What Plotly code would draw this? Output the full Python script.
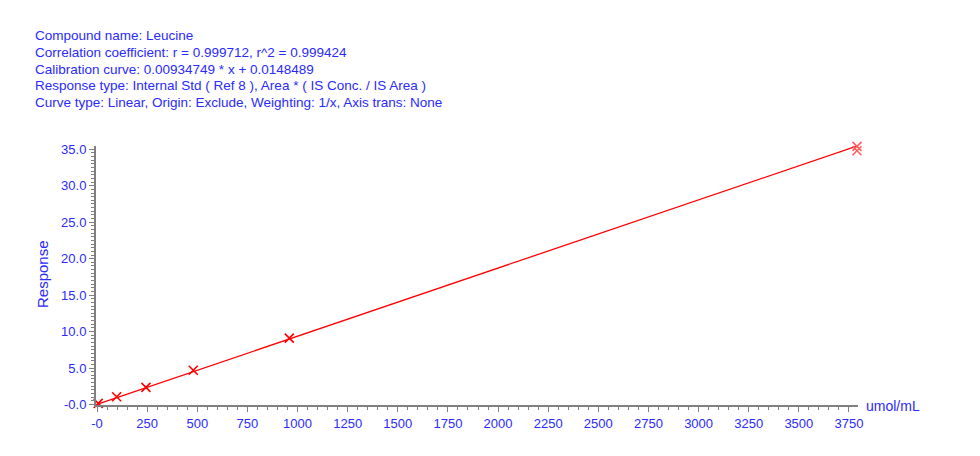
import plotly.graph_objects as go

# Calibration standards (concentration umol/mL, response)
std_conc = [6, 98, 244, 480, 959, 3790, 3790]
std_resp = [0.16, 1.06, 2.35, 4.70, 9.10, 35.40, 34.80]

# Fit parameters as printed in the header
slope = 0.00934749
intercept = 0.0148489
fit_conc = [0, 3785]

x_ticks = [0, 250, 500, 750, 1000, 1250, 1500, 1750, 2000, 2250, 2500, 2750, 3000, 3250, 3500, 3750]
x_ticklabels = ["-0"] + [str(v) for v in x_ticks[1:]]
y_ticks = [0, 5, 10, 15, 20, 25, 30, 35]
y_ticklabels = ["-0.0"] + [f"{v:.1f}" for v in y_ticks[1:]]

header_lines = [
    "Compound name: Leucine",
    "Correlation coefficient: r = 0.999712, r^2 = 0.999424",
    "Calibration curve: 0.00934749 * x + 0.0148489",
    "Response type: Internal Std ( Ref 8 ), Area * ( IS Conc. / IS Area )",
    "Curve type: Linear, Origin: Exclude, Weighting: 1/x, Axis trans: None",
]

BLUE = "#2a2aff"
RED = "#ff0000"
GREY = "#808080"
FONT = "Liberation Sans, Arial, sans-serif"

# page body has an 8px margin, so work in page pixels and shift
OFF = 8
W, H = 980 - 2 * OFF, 456 - 2 * OFF
L, T = 96 - OFF, 146 - OFF
R = W - (858 - OFF)
B = H - (405 - OFF)
plot_w = W - L - R
plot_h = H - T - B


def paper_x(px):
    return (px - OFF - L) / plot_w


def paper_y(py):
    return (H - B - (py - OFF)) / plot_h


fit_resp = [slope * x + intercept for x in fit_conc]
# the two overlapping replicates at the top level show up paler
marker_colors = [RED] * 5 + ["#ff6060"] * 2

fig = go.Figure()
fig.add_trace(go.Scatter(
    x=fit_conc, y=fit_resp, mode="lines",
    line=dict(color=RED, width=1.3),
    hoverinfo="skip", cliponaxis=False,
))
fig.add_trace(go.Scatter(
    x=std_conc, y=std_resp, mode="markers",
    marker=dict(symbol="x-thin", size=9, line=dict(color=marker_colors, width=1.6)),
    cliponaxis=False,
))

axis_common = dict(
    showline=True, linecolor=GREY, linewidth=2,
    ticks="outside", tickcolor=GREY, ticklen=5, tickwidth=1,
    showgrid=False, zeroline=False,
    tickfont=dict(family=FONT, size=13, color=BLUE),
    fixedrange=True,
)

fig.update_xaxes(
    range=[-5, 3795],
    tickvals=x_ticks, ticktext=x_ticklabels,
    minor=dict(dtick=50, tick0=0, ticks="outside", ticklen=3, tickcolor=GREY),
    **axis_common,
)
fig.update_yaxes(
    range=[-0.07, 35.45],
    tickvals=y_ticks, ticktext=y_ticklabels,
    minor=dict(dtick=0.5, tick0=0, ticks="outside", ticklen=3, tickcolor=GREY),
    **axis_common,
)

# Header text block
for i, line in enumerate(header_lines):
    fig.add_annotation(
        text=line, xref="paper", yref="paper",
        x=paper_x(33), y=paper_y(36 + i * 16.6),
        xanchor="left", yanchor="middle", showarrow=False,
        font=dict(family=FONT, size=13.5, color=BLUE),
    )

# Axis titles
fig.add_annotation(
    text="Response", xref="paper", yref="paper",
    x=paper_x(42), y=paper_y(274), textangle=-90,
    xanchor="center", yanchor="middle", showarrow=False,
    font=dict(family=FONT, size=15, color=BLUE),
)
fig.add_annotation(
    text="umol/mL", xref="paper", yref="paper",
    x=paper_x(864), y=paper_y(406),
    xanchor="left", yanchor="middle", showarrow=False,
    font=dict(family=FONT, size=14, color=BLUE),
)

fig.update_layout(
    width=W, height=H,
    margin=dict(l=L, r=R, t=T, b=B),
    paper_bgcolor="white", plot_bgcolor="white",
    showlegend=False,
)

fig.write_html("out.html")
